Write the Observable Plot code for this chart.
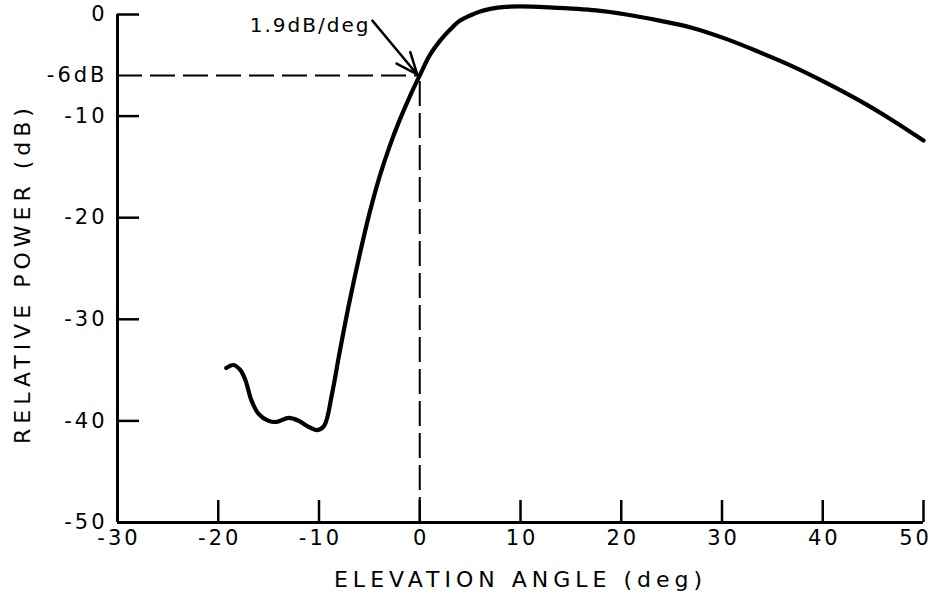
<!DOCTYPE html>
<html>
<head>
<meta charset="utf-8">
<script src="https://cdn.jsdelivr.net/npm/d3@7"></script>
<script src="https://cdn.jsdelivr.net/npm/@observablehq/plot@0.6"></script>
<style>
  html, body { margin: 0; padding: 0; background: white; }
  g[aria-label="x-axis tick label"] text { letter-spacing: 3px; }
  g[aria-label="y-axis tick label"] text { letter-spacing: 3px; }
  text[aria-label="x title"] { letter-spacing: 5px; }
  text[aria-label="y title"] { letter-spacing: 5px; }
  text[aria-label="note"] { letter-spacing: 2px; }
</style>
</head>
<body>
<div id="chart"></div>
<script>
// ---- data ----
const angle = [-19.2, -18.5, -17.8, -17.3, -16.7, -16.0, -15.0, -14.2, -13.0, -12.0, -11.0, -10.2, -9.5,
  -8.7, -8.0, -7.0, -6.0, -5.0, -4.0, -3.0, -2.0, -1.0, 0, 1.0, 2.0, 3.0, 4.0, 5.0, 6.0, 7.0, 8.5, 10.0, 12.8, 17.5, 20.5, 23.8, 27.0, 30.4, 33.7, 37.0, 40.3, 43.7, 46.9, 50.0];
const power = [-34.8, -34.5, -35.0, -36.0, -38.0, -39.3, -40.0, -40.1, -39.7, -40.0, -40.6, -40.9, -40.5,
  -37.3, -33.5, -28.4, -23.8, -19.6, -16.0, -13.0, -10.4, -8.1, -6.0, -4.0, -2.6, -1.5, -0.6, -0.1, 0.3, 0.55, 0.75, 0.8, 0.7, 0.4, 0.0, -0.6, -1.3, -2.4, -3.7, -5.1, -6.7, -8.5, -10.4, -12.4];

const xDomain = [-30, 50];
const yDomain = [-50, 0];
const xTickLabels = [-30, -20, -10, 0, 10, 20, 30, 40];
const xLastLabel = [50];
const xTickMarks = [-20, -10, 0, 10, 20, 30, 40, 50];
const yTickLabels = [0, -6, -10, -20, -30, -40, -50];
const yTickMarks = [0, -10, -20, -30, -40];

const refLevel = -6;     // dB
const refAngle = 0;      // deg
const noteText = "1.9dB/deg";
const noteAt = [{x: -4.9, y: -1.1}];
const arrowSeg = [{x1: -4.7, y1: -0.6, x2: -0.25, y2: -5.9}];

const xTitle = "ELEVATION ANGLE (deg)";
const yTitle = "RELATIVE POWER (dB)";

// ---- layout ----
const W = 931, H = 593, ML = 117, MR = 8, MT = 14, MB = 71;
const innerW = W - ML - MR, innerH = H - MT - MB;
const tickLen = 22;

const curve = angle.map((a, i) => ({a, p: power[i]}));
const fmt = d => (d < 0 ? "-" + Math.abs(d) : String(d));

const chart = Plot.plot({
  width: W, height: H,
  marginLeft: ML, marginRight: MR, marginTop: MT, marginBottom: MB,
  style: {fontFamily: "'DejaVu Sans', sans-serif", fontSize: "20px", background: "white", color: "black", overflow: "visible"},
  x: {domain: xDomain},
  y: {domain: yDomain},
  marks: [
    Plot.axisX({ticks: xTickLabels, tickSize: 0, tickPadding: 8, tickFormat: fmt, label: null, dx: 1.5, fontSize: 21}),
    Plot.axisX({ticks: xLastLabel, tickSize: 0, tickPadding: 8, tickFormat: fmt, label: null, dx: -8, fontSize: 21}),
    Plot.axisY({ticks: yTickLabels, tickSize: 0, tickPadding: 10, tickFormat: d => d === refLevel ? "-6dB" : fmt(d), label: null, fontSize: 21}),
    Plot.ruleX([xDomain[0]], {strokeWidth: 3}),
    Plot.ruleY([yDomain[0]], {strokeWidth: 3}),
    Plot.tickY(yTickMarks, {y: d => d, insetRight: innerW - tickLen, strokeWidth: 2.5}),
    Plot.tickX(xTickMarks, {x: d => d, insetTop: innerH - tickLen, strokeWidth: 2.5}),
    Plot.ruleY([refLevel], {x1: xDomain[0], x2: refAngle, strokeWidth: 2, strokeDasharray: "25,8"}),
    Plot.ruleX([refAngle], {y1: yDomain[0], y2: refLevel, strokeWidth: 2, strokeDasharray: "25,7"}),
    Plot.line(curve, {x: "a", y: "p", curve: "catmull-rom", strokeWidth: 4.2, strokeLinecap: "round", strokeLinejoin: "round"}),
    Plot.arrow(arrowSeg, {x1: "x1", y1: "y1", x2: "x2", y2: "y2", strokeWidth: 2.5, headLength: 16, headAngle: 45}),
    Plot.text(noteAt, {x: "x", y: "y", text: () => noteText, textAnchor: "end", fontSize: 20, ariaLabel: () => "note"}),
    Plot.text([xTitle], {frameAnchor: "bottom", dy: 57, textAnchor: "middle", lineAnchor: "middle", fontSize: 22, ariaLabel: () => "x title"}),
    Plot.text([yTitle], {frameAnchor: "left", rotate: -90, dx: -95, dy: 5, textAnchor: "middle", lineAnchor: "middle", fontSize: 22, ariaLabel: () => "y title"})
  ]
});
document.getElementById("chart").appendChild(chart);
</script>
</body>
</html>
